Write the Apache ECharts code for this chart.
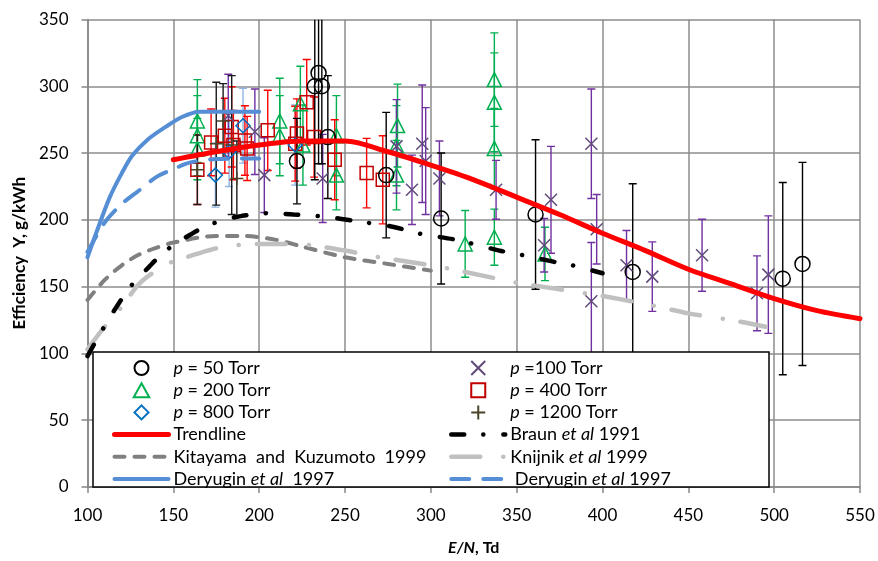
<!DOCTYPE html>
<html>
<head>
<meta charset="utf-8">
<script src="https://cdn.jsdelivr.net/npm/echarts@6/dist/echarts.min.js"></script>
<style>
  html, body { margin: 0; padding: 0; background: #fff; }
  #chart { width: 878px; height: 561px; }
</style>
</head>
<body>
<div id="chart"></div>
<script>
// efficiency vs E/N, measured points with error bars + literature curves
const FONT = 'Lato, "Open Sans", sans-serif'

// measured points: x, y and half-length of error bar
const p50X = [222, 232.4, 234.6, 236.5, 240, 274, 306, 361, 417.6, 505, 516.5]
const p50Y = [244, 300, 310, 300, 262, 233.5, 201, 204, 161, 156, 167]
const p50Err = [32, 70, 68, 58, 46, 47, 49, 56, 66, 72, 76]

const p100X = [182, 197.5, 203, 237, 280, 289, 295, 297, 305, 338, 366, 370, 393.5, 396.6, 393.5, 414, 429, 458, 490, 496.6]
const p100Y = [278, 266, 233.5, 231, 255, 222.5, 257, 244, 231, 222.5, 181, 215, 257, 193, 139, 166, 157.5, 173.5, 145, 159]
const p100Err = [31, 32, 28, 33, 35, 26, 44, 40, 28, 22, 20, 40, 41, 26, 44, 26, 26, 27, 28, 44]

const p200X = [164, 164, 164, 212, 212, 224, 225.5, 245, 245, 280.6, 280, 280, 320, 337, 337, 337, 337, 366.5]
const p200Y = [274, 263, 253, 274, 263, 287, 256, 263, 233.5, 270.6, 255.5, 233.5, 182, 305, 288, 253.5, 187, 174.5]
const p200Err = [31, 30, 23, 32, 30, 28, 30, 30, 26, 31, 30, 26, 25, 35, 37, 30, 21, 20]

const p400X = [164, 172, 180, 184, 185, 191.7, 193, 205, 221, 222, 227.7, 232, 244, 262.6, 272]
const p400Y = [237.5, 258, 263, 269.6, 256, 259.4, 253.5, 267, 257, 264.6, 288, 262, 245, 235, 230]
const p400Err = [26, 25, 28, 30, 26, 26, 24, 30, 28, 26, 32, 30, 30, 26, 33]

const p800X = [174.5, 182.5, 190.6, 221]
const p800Y = [233.5, 251, 270.5, 256]
const p800Err = [24, 26, 28, 30]

const p1200X = [164, 175, 179, 184, 187]
const p1200Y = [237.5, 257, 274, 256, 231]
const p1200Err = [26, 46, 28, 52, 28]

// curves
const trendX = [150, 175, 200, 225, 250, 275, 300, 325, 350, 375, 400, 425, 450, 475, 500, 525, 550]
const trendY = [245, 251, 256, 259, 259, 251, 241, 230, 217, 204, 190, 177, 163, 152, 141, 132, 126]

const braunX = [100, 107, 115, 125, 136, 143, 151, 160, 167, 177, 190, 207, 220, 237, 257, 277, 296, 315, 340, 354, 374, 384, 400]
const braunY = [98, 114, 131, 150, 165, 174, 182, 189, 194, 199, 203, 205, 204, 202.5, 199, 195, 189, 185, 177, 173.5, 168, 165.5, 160]

const kitaX = [100, 110, 120, 130, 140, 150, 175, 190, 210, 225, 250, 275, 300]
const kitaY = [140, 155, 166, 174, 179, 183, 188, 188, 185, 180, 172, 167, 162]

const knijX = [100, 110, 120, 130, 140, 150, 160, 170, 180, 200, 215, 230, 250, 270, 300, 320, 350, 375, 400, 425, 450, 475, 495]
const knijY = [103, 120, 135, 152, 162, 169, 173, 177, 180, 182, 182, 181, 177, 172, 166, 161, 153, 148, 143, 137, 130, 125, 120]

const dery1X = [100, 105, 113, 120, 126, 135, 146, 155, 165, 180, 200]
const dery1Y = [172, 190, 217, 235, 248, 260, 270, 277, 281, 281, 281]

const dery2X = [100, 110, 120, 130, 140, 150, 160, 175, 200]
const dery2Y = [176, 198, 212, 222, 232, 238, 243, 245.5, 246]

function zip(xs, ys, es) {
  return xs.map((x, i) => es ? [x, ys[i], es[i]] : [x, ys[i]])
}

function errorBars(color) {
  return function (params, api) {
    const x = api.value(0)
    const y = api.value(1)
    const e = api.value(2)
    const top = api.coord([x, y + e])
    const bot = api.coord([x, y - e])
    const cap = 4
    const cs = params.coordSys
    const st = () => ({ stroke: color, lineWidth: 1.4 })
    return {
      type: 'group',
      clipPath: { type: 'rect', shape: { x: cs.x, y: cs.y, width: cs.width, height: cs.height } },
      children: [
        { type: 'line', shape: { x1: top[0], y1: top[1], x2: bot[0], y2: bot[1] }, style: st() },
        { type: 'line', shape: { x1: top[0] - cap, y1: top[1], x2: top[0] + cap, y2: top[1] }, style: st() },
        { type: 'line', shape: { x1: bot[0] - cap, y1: bot[1], x2: bot[0] + cap, y2: bot[1] }, style: st() }
      ]
    }
  }
}

function errSeries(name, xs, ys, es, color) {
  return {
    name: name,
    type: 'custom',
    clip: true,
    renderItem: errorBars(color),
    data: zip(xs, ys, es),
    encode: { x: 0, y: 1 },
    silent: true
  }
}

function markSeries(name, xs, ys, symbol, size, color) {
  return {
    name: name,
    type: 'scatter',
    data: zip(xs, ys),
    symbol: symbol,
    symbolSize: size,
    symbolKeepAspect: true,
    itemStyle: { color: 'rgba(0,0,0,0)', borderColor: color, borderWidth: 1.5, opacity: 1 },
    silent: true
  }
}

function curve(name, xs, ys, color, width, type) {
  return {
    name: name,
    type: 'line',
    data: zip(xs, ys),
    smooth: 0.3,
    symbol: 'none',
    lineStyle: { color: color, width: width, type: type || 'solid', cap: 'round' },
    itemStyle: { color: color },
    silent: true
  }
}

const X_PATH = 'path://M0,0L10,10M10,0L0,10'
const PLUS_PATH = 'path://M5,0L5,10M0,5L10,5'
const TRI_PATH = 'path://M5,0L10,9L0,9Z'
const RECT_PATH = 'path://M0,0L10,0L10,10L0,10Z'
const DIAM_PATH = 'path://M5,0L10,5L5,10L0,5Z'

const legendText = {
  'p = 50 Torr': '{i|p} = 50 Torr',
  'p =100 Torr': '{i|p} =100 Torr',
  'p = 200 Torr': '{i|p} = 200 Torr',
  'p = 400 Torr': '{i|p} = 400 Torr',
  'p = 800 Torr': '{i|p} = 800 Torr',
  'p = 1200 Torr': '{i|p} = 1200 Torr',
  'Trendline': 'Trendline',
  'Braun et al 1991': 'Braun {i|et al} 1991',
  'Kitayama and Kuzumoto 1999': 'Kitayama  and  Kuzumoto  1999',
  'Knijnik et al 1999': 'Knijnik {i|et al} 1999',
  'Deryugin et al 1997': 'Deryugin {i|et al}  1997',
  ' Deryugin et al 1997': ' Deryugin {i|et al} 1997'
}

// line entries: hide the symbol ECharts puts in the middle of the line icon
function lineItem(name, width) {
  return {
    name: name,
    itemStyle: { opacity: 0, color: 'rgba(0,0,0,0)', borderWidth: 0 },
    lineStyle: { width: width, cap: 'round' }
  }
}

const legendBase = {
  orient: 'vertical',
  top: 354,
  itemWidth: 54,
  itemHeight: 14,
  itemGap: 4.2,
  selectedMode: false,
  symbolKeepAspect: true,
  z: 10,
  formatter: name => legendText[name],
  textStyle: {
    fontFamily: FONT,
    fontSize: 18,
    color: '#000',
    rich: { i: { fontStyle: 'italic', fontFamily: FONT, fontSize: 18 } }
  }
}

const chart = echarts.init(document.getElementById('chart'))

chart.setOption({
  animation: false,
  backgroundColor: '#fff',
  textStyle: { fontFamily: FONT },
  grid: { left: 87.5, right: 18, top: 19.5, bottom: 68 },
  xAxis: {
    type: 'value',
    min: 100,
    max: 550,
    interval: 50,
    axisLine: { show: true, onZero: false, lineStyle: { color: '#868686', width: 1.5 } },
    axisTick: { show: true, length: 6, lineStyle: { color: '#868686', width: 1.5 } },
    splitLine: { show: true, lineStyle: { color: '#8c8c8c', width: 1.5 } },
    axisLabel: { fontSize: 17, color: '#000', margin: 20, fontFamily: FONT },
    name: '{i|E/N}, Td',
    nameLocation: 'middle',
    nameGap: 53,
    nameTextStyle: {
      fontFamily: FONT, fontSize: 16, fontWeight: 'bold', color: '#000',
      rich: { i: { fontStyle: 'italic', fontWeight: 'bold', fontSize: 16, fontFamily: FONT } }
    }
  },
  yAxis: {
    type: 'value',
    min: 0,
    max: 350,
    interval: 50,
    axisLine: { show: true, lineStyle: { color: '#868686', width: 1.5 } },
    axisTick: { show: true, length: 6, lineStyle: { color: '#868686', width: 1.5 } },
    splitLine: { show: true, lineStyle: { color: '#8c8c8c', width: 1.5 } },
    axisLabel: { fontSize: 17, color: '#000', margin: 19, fontFamily: FONT },
    name: 'Efficiency  Y, g/kWh',
    nameLocation: 'middle',
    nameGap: 58,
    nameTextStyle: { fontFamily: FONT, fontSize: 17, fontWeight: 'bold', color: '#000' }
  },
  legend: [
    Object.assign({}, legendBase, {
      left: 107,
      data: [
        { name: 'p = 50 Torr', icon: 'circle' },
        { name: 'p = 200 Torr', icon: TRI_PATH },
        { name: 'p = 800 Torr', icon: DIAM_PATH },
        lineItem('Trendline', 5),
        lineItem('Kitayama and Kuzumoto 1999', 4),
        lineItem('Deryugin et al 1997', 4)
      ]
    }),
    Object.assign({}, legendBase, {
      left: 444,
      data: [
        { name: 'p =100 Torr', icon: X_PATH },
        { name: 'p = 400 Torr', icon: RECT_PATH },
        { name: 'p = 1200 Torr', icon: PLUS_PATH },
        lineItem('Braun et al 1991', 4.5),
        lineItem('Knijnik et al 1999', 4.5),
        lineItem(' Deryugin et al 1997', 4)
      ]
    })
  ],
  graphic: [{
    type: 'rect',
    z: 3,
    shape: { x: 93, y: 352, width: 676, height: 135 },
    style: { fill: '#fff', stroke: '#000', lineWidth: 1.5 }
  }],
  series: [
    curve('Deryugin et al 1997', dery1X, dery1Y, '#558ED5', 4),
    curve(' Deryugin et al 1997', dery2X, dery2Y, '#558ED5', 4, [18, 14]),
    curve('Kitayama and Kuzumoto 1999', kitaX, kitaY, '#808080', 4, [10, 10]),
    curve('Knijnik et al 1999', knijX, knijY, '#C0C0C0', 4.5, [29, 23, 0.1, 18]),
    curve('Braun et al 1991', braunX, braunY, '#000000', 4.5, [13, 19, 0.1, 20]),

    errSeries('e800', p800X, p800Y, p800Err, '#8DB4E2'),
    errSeries('e200', p200X, p200Y, p200Err, '#00B050'),
    errSeries('e400', p400X, p400Y, p400Err, '#FF0000'),
    errSeries('e100', p100X, p100Y, p100Err, '#7030A0'),
    errSeries('e1200', p1200X, p1200Y, p1200Err, '#1a1a1a'),
    errSeries('e50', p50X, p50Y, p50Err, '#000000'),

    markSeries('p = 200 Torr', p200X, p200Y, 'triangle', 14, '#00B050'),
    markSeries('p = 400 Torr', p400X, p400Y, 'rect', 13, '#C00000'),
    markSeries('p = 800 Torr', p800X, p800Y, 'diamond', 14, '#0070C0'),
    markSeries('p =100 Torr', p100X, p100Y, X_PATH, 12, '#604A7B'),
    markSeries('p = 1200 Torr', p1200X, p1200Y, PLUS_PATH, 13, '#4A452A'),
    markSeries('p = 50 Torr', p50X, p50Y, 'circle', 15, '#000000'),

    curve('Trendline', trendX, trendY, '#FF0000', 5)
  ]
})
</script>
</body>
</html>
